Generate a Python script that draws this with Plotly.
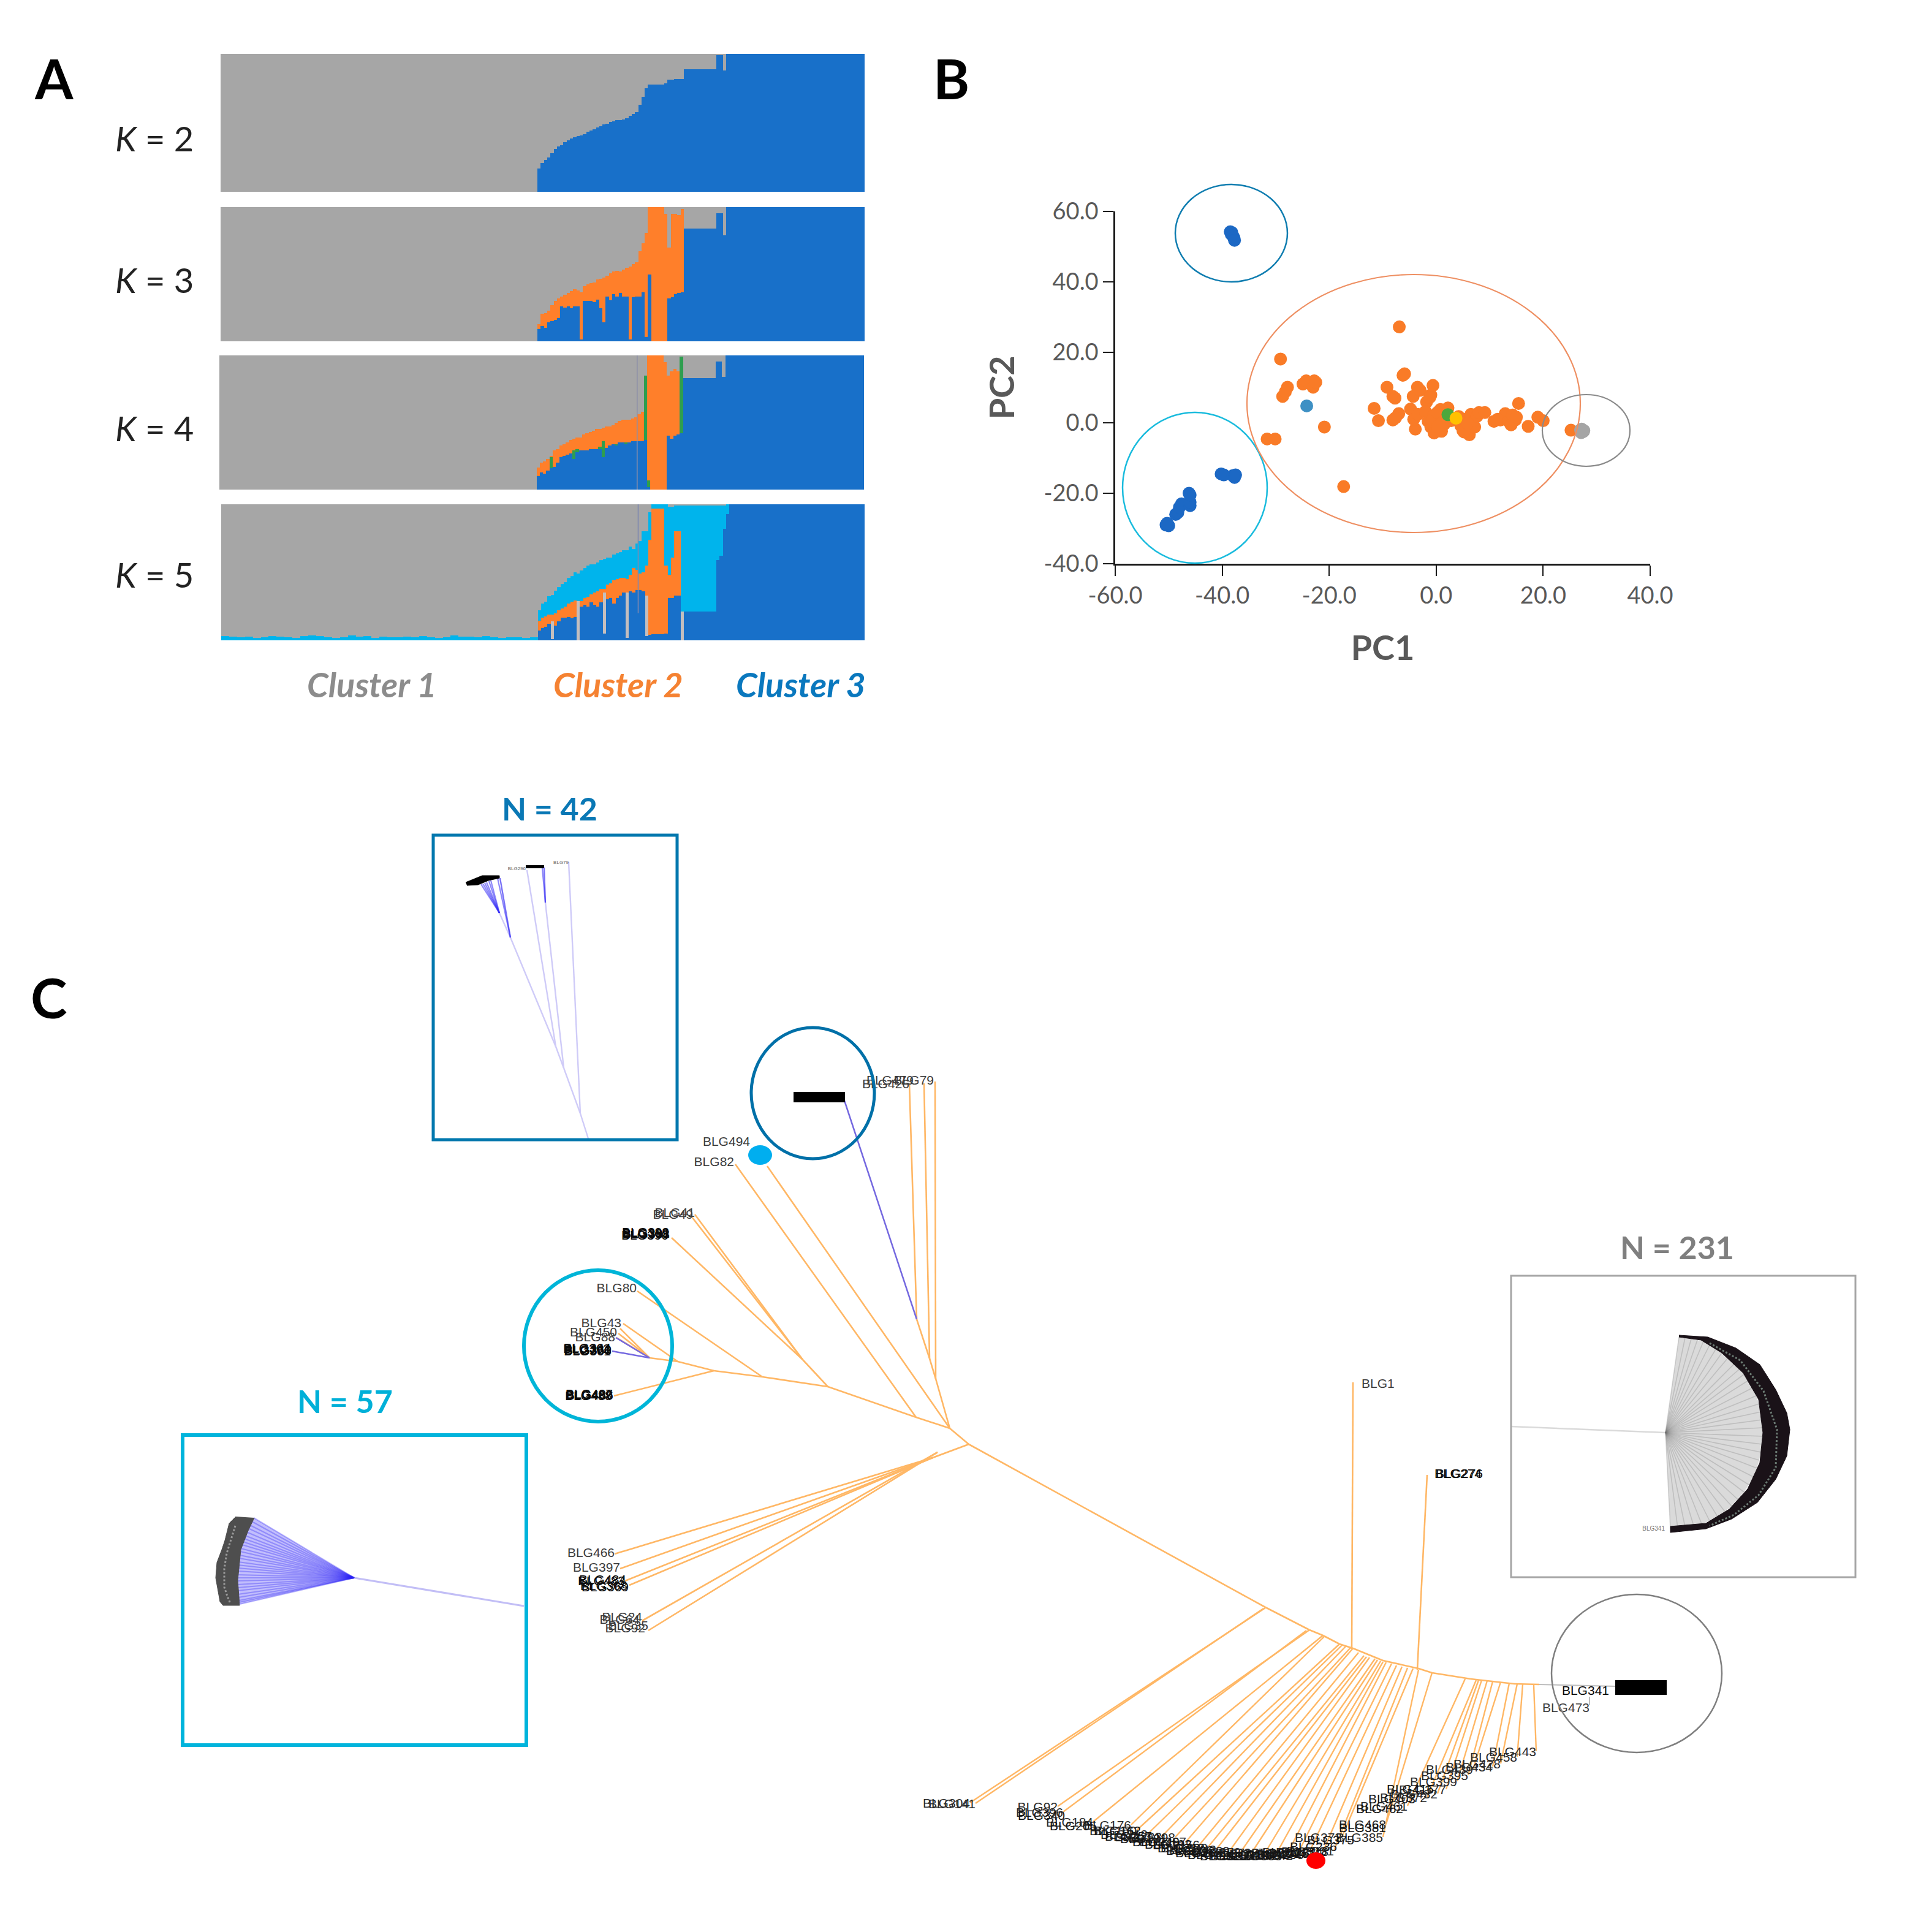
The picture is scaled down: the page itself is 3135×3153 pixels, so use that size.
import plotly.graph_objects as go

W, H = 3135, 3153
GRAY, BLUE, ORANGE, CYAN, GREEN = "#A6A6A6", "#1870C9", "#FF7F2A", "#00B0F0", "#2E9E4F"
SPIKE = "#C4BEBE"
TREE = "#FFB765"
VIOLET = "#7468E0"

# ---------- Panel A: admixture proportions, read column by column ----------
cols_left = 243.5
col_w = 2.5
n_total = 495
k2_blue = [.17,.21,.23,.25,.28,.31,.33,.34,.36,.375,.385,.395,.405,.41,.42,.435,.445,.455,.465,.475,
           .49,.495,.505,.51,.52,.52,.525,.535,.55,.565,.58,.63,.69,.75,.78,.78,.78,.78,.78,.785,
           .815,.815,.82,.82,.82,.89,.89,.89,.89,.89,.89,.89,.89,.89,.89,.99,.99,.88,1,1]
k3_blue = [.09,.115,.10,.14,.15,.16,.175,.26,.25,.26,.245,.26,.26,.015,.30,.30,.30,.29,.31,.245,
           .14,.335,.305,.35,.335,.36,.335,.335,.015,.33,.335,.335,.365,.03,.5,0,0,0,0,0,
           .32,.33,.35,.36,.365,.84,.84,.84,.84,.84,.84,.84,.84,.84,.84,.955,.955,.79,1,1]
k3_orange_top = [.13,.205,.21,.23,.27,.30,.32,.335,.345,.36,.375,.39,.38,.365,.41,.425,.435,.44,.46,.465,
                 .475,.49,.505,.52,.525,.52,.535,.55,.555,.575,.59,.67,.73,.81,1,1,1,1,1,.95,
                 .70,.95,.95,.94,.985,.84,.84,.84,.84,.84,.84,.84,.84,.84,.84,.955,.955,.79,1,1]
k4_blue = [.10,.13,.12,.14,.16,.17,.20,.24,.25,.26,.27,.23,.28,.29,.29,.29,.30,.30,.30,.30,
           .24,.31,.33,.34,.33,.35,.35,.34,.35,.36,.36,.36,.36,.37,.02,0,0,0,0,0,
           .40,.38,.40,.41,.42,.83,.83,.83,.83,.83,.83,.83,.83,.83,.83,.955,.955,.84,1,1]
k4_green = [0,0,0,0,.08,0,0,0,0,0,0,.06,.02,0,0,0,0,0,0,.02,
            .12,0,0,0,.01,0,0,.01,0,0,0,0,0,.48,.05,0,0,0,0,0,
            0,0,0,0,.57,0,0,0,0,0,0,0,0,0,0,0,0,0,0,0]
k4_orange = [.065,.07,.09,.09,.01,.12,.10,.09,.09,.09,.10,.09,.09,.10,.12,.13,.13,.14,.15,.13,
             .10,.16,.14,.14,.16,.16,.17,.17,.17,.17,.18,.20,.22,0,.93,1,1,1,1,.95,
             .45,.50,.50,.47,0,0,0,0,0,0,0,0,0,0,0,0,0,0,0,0]
k5_blue = [.07,.09,.10,.12,.01,.11,.14,.165,.165,.17,.16,.17,0,.25,.26,.25,.28,.26,.25,.28,
           .05,.30,.31,.27,.31,.33,.35,.02,.36,.35,.37,.37,.36,.03,.04,.045,.045,.045,.045,.05,
           .31,.31,.33,.33,0,.21,.21,.21,.21,.21,.21,.21,.21,.21,.21,.59,.62,.82,.93,1]
k5_spike = [0,0,0,0,.13,0,0,0,0,0,0,0,.29,0,0,0,0,0,0,0,
            .30,0,0,0,0,0,0,.33,0,0,0,0,0,.30,0,0,0,0,0,0,
            0,0,0,0,.21,0,0,0,0,0,0,0,0,0,0,0,0,0,0,0]
k5_orange = [.075,.075,.075,.07,.05,.09,.08,.07,.085,.10,.125,.125,0,.04,.05,.07,.06,.09,.11,.10,
             .03,.11,.11,.17,.14,.13,.11,.10,.12,.18,.15,.12,.14,.22,.70,.925,.925,.925,.925,.50,
             .17,.30,.47,.47,0,0,0,0,0,0,0,0,0,0,0,0,0,0,0,0]
k5_cyan = [.075,.105,.11,.135,.145,.165,.17,.18,.18,.19,.19,.205,.20,.225,.22,.23,.22,.21,.21,.21,
           .22,.20,.19,.19,.19,.19,.20,.21,.21,.14,.19,.24,.30,.25,.20,.03,.03,.03,.03,.45,
           .50,.37,.19,.19,.78,.78,.78,.78,.78,.78,.78,.78,.78,.78,.78,.40,.37,.17,.07,0]
k5_left_cyan = [.03,.025,.022,.028,.02,.024,.03,.026,.022,.02,.03,.034,.03,.024,.02,.022,.035,.028,.03,.02,
                .025,.024,.022,.026,.024,.03,.022,.02,.024,.035,.026,.028,.022,.03,.024,.02,.022,.024,.02,.024]

# ---------- Panel B: PCA ----------
pc_ticks_x = [-60, -40, -20, 0, 20, 40]
pc_ticktext_x = ["-60.0", "-40.0", "-20.0", "0.0", "20.0", "40.0"]
pc_ticks_y = [-40, -20, 0, 20, 40, 60]
pc_ticktext_y = ["-40.0", "-20.0", "0.0", "20.0", "40.0", "60.0"]
dark_x = [-38.5,-38.2,-38.3,-38.0,-37.8,-37.7,-50.5,-50.0,-50.3,-48.7,-48.3,-48.0,-47.6,-46.0,-46.0,-46.2,-46.0,-40.2,-39.7,-38.0,-37.7,-37.5]
dark_y = [54.2,54.0,53.5,53.0,52.5,51.8,-29.0,-29.2,-28.5,-26.0,-25.5,-24.0,-23.0,-23.5,-22.5,-20.0,-20.5,-14.5,-14.8,-15.0,-15.5,-14.8]
orange_x = [-6.9,-29.1,-6.2,-5.9,-27.8,-28.7,-28.2,-24.9,-24.3,-22.8,-23.0,-22.5,-9.2,-8.1,-7.7,-3.5,-4.3,-3.0,-0.6,-1.0,-1.8,-1.2,
            -11.6,-10.8,-8.1,-7.0,-7.6,-4.8,-3.9,-4.2,-3.4,-20.9,-31.6,-30.1,-17.3,-2.0,-1.5,-1.0,-0.5,0.0,0.4,0.8,1.0,1.5,1.8,2.2,-0.2,
            -0.8,0.2,0.6,1.2,-0.4,0.3,2.8,4.2,4.6,5.0,5.4,5.8,6.2,6.5,6.8,7.2,7.6,8.0,5.2,5.9,9.1,10.8,12.0,12.9,11.5,13.5,14.3,14.8,14.0,
            15.0,15.4,17.2,19.0,20.0,25.2]
orange_y = [27.2,18.1,13.5,13.9,10.1,7.5,8.8,11.0,11.9,11.9,10.1,11.5,10.1,7.5,7.0,10.1,7.5,9.2,10.6,7.9,5.9,7.2,
            4.1,0.6,0.8,2.6,1.4,3.9,-1.8,1.0,2.4,-1.2,-4.6,-4.6,-18.1,3.2,0.4,-1.2,2.0,-0.6,1.2,3.8,-2.4,-0.4,1.8,4.2,-1.8,
            0.8,2.9,-0.8,0.2,-2.9,-1.0,0.6,1.8,-0.8,-2.2,1.0,-1.6,-3.4,2.4,0.2,-1.2,1.8,2.9,-2.6,-0.2,2.9,0.4,0.8,2.6,1.0,0.4,2.2,0.8,-0.6,
            1.6,5.5,-1.0,1.6,0.6,-2.1]
lightblue_x, lightblue_y = [-24.2], [4.8]
gray_x = [27.0, 27.5, 27.2, 27.6, 27.1]
gray_y = [-2.0, -2.5, -1.8, -2.2, -2.8]
green_x, green_y = [2.2], [2.3]
yellow_x, yellow_y = [3.7], [1.3]

# ---------- Panel C: tree, in its own drawing coordinates ----------
tree_x0 = [1581,1550,1495,1351,1244,1165,1106,1550,1527,1517,1496,1550,1495,1351,1310,1310,1310,1244,1106,1060,1060,1060,1165,
           1581,1522,1522,1522,1522,1530,1530,1581,2065,2137,2159,2186,2208,2257,2315,2337,2400,2471,2206,2313]
tree_y0 = [2357,2331,2313,2263,2247,2237,2222,2331,2250,2217,2153,2331,2313,2263,2219,2219,2219,2247,2222,2216,2216,2216,2237,
           2357,2379,2379,2379,2379,2370,2370,2357,2623,2660,2669,2683,2690,2710,2723,2730,2740,2748,2691,2725]
tree_x1 = [1550,1495,1351,1244,1165,1106,1060,1527,1517,1496,1484,1252,1200,1310,1134,1129,1096,1040,1017,1012,1009,1006,1002,
           1522,1003,1012,1020,1027,1048,1058,2065,2137,2159,2186,2208,2257,2315,2337,2400,2471,2512,2208,2329]
tree_y1 = [2331,2313,2263,2247,2237,2222,2216,2250,2217,2153,1768,1903,1900,2219,1982,1986,2020,2107,2160,2168,2176,2183,2278,
           2379,2536,2560,2580,2587,2645,2661,2623,2660,2669,2683,2690,2710,2723,2730,2740,2748,2749,2256,2407]
tree_tip_up_x0 = [1527, 1517]
tree_tip_up_y0 = [2250, 2217]
tree_tip_up_x1 = [1526, 1508]
tree_tip_up_y1 = [1765, 1768]
leaf_x0 = [2065,2062,2137,2132,2159,2161,2186,2190,2196,2204,2208,2217,2226,2230,2235,2244,2248,2253,2257,2262,2271,2279,2288,2297,2306,2315,2337,
           2391,2409,2413,2418,2427,2436,2449,2463,2476,2485,2503]
leaf_y0 = [2624,2625,2660,2661,2669,2671,2683,2685,2687,2689,2690,2697,2702,2704,2705,2707,2709,2711,2712,2713,2715,2718,2720,2722,2723,2725,2730,
           2740,2742,2742,2742,2743,2744,2745,2747,2748,2749,2750]
leaf_x1 = [1583,1592,1726,1735,1784,1846,1855,1873,1896,1918,1936,1958,1971,1985,2007,2025,2043,2065,2083,2101,2119,2137,2159,2177,2190,2257,2262,
           2297,2329,2346,2360,2378,2396,2404,2436,2449,2476,2507]
leaf_y1 = [2942,2943,2948,2957,2973,2978,2987,2993,2997,2998,3005,3010,3015,3018,3020,3022,3023,3023,3025,3025,3023,3022,3022,3020,2998,2998,2977,
           2947,2933,2927,2920,2907,2897,2887,2883,2878,2867,2858]
leaf_names = ["BLG304","BLG141","BLG92","BLG396","BLG184","BLG176","BLG150","BLG212","BLG233","BLG198","BLG267","BLG156","BLG300","BLG142","BLG229","BLG272",
              "BLG371","BLG227","BLG244","BLG342","BLG221","BLG238","BLG224","BLG231","BLG373","BLG385","BLG468",
              "BLG461","BLG372","BLG432","BLG377","BLG399","BLG395","BLG439","BLG434","BLG428","BLG458","BLG443"]
arc_names = ["BLG340","BLG205","BLG162","BLG257","BLG181","BLG249","BLG193","BLG312","BLG206","BLG268","BLG214","BLG325","BLG277","BLG218","BLG333","BLG242","BLG290","BLG251","BLG318","BLG236","BLG375","BLG381","BLG403","BLG415","BLG462"]
arc_x = [1738,1790,1862,1880,1905,1925,1945,1966,1980,1995,2015,2035,2052,2072,2092,2110,2128,2148,2168,2182,2210,2262,2310,2340,2290]
arc_y = [2965,2982,2990,2999,3003,3008,3012,3018,3022,3026,3029,3031,3031,3030,3031,3030,3029,3027,3024,3016,3005,2985,2938,2922,2954]
tip_names = ["BLG494","BLG82","BLG41","BLG49","BLG80","BLG43","BLG450","BLG88","BLG79","BLG479","BLG426",
             "BLG466","BLG397","BLG24","BLG64","BLG35","BLG92","BLG473"]
tip_x = [1224,1198,1134,1131,1039,1014,1007,1004,1524,1491,1484,1003,1012,1048,1044,1058,1053,2594]
tip_y = [1865,1898,1981,1984,2104,2161,2176,2184,1765,1765,1771,2536,2560,2641,2645,2655,2659,2789]
smudge_names = ["BLG388","BLG389","BLG390","BLG391","BLG392",
                "BLG360","BLG361","BLG362","BLG363","BLG364",
                "BLG486","BLG487","BLG488","BLG489",
                "BLG483","BLG484","BLG368","BLG369",
                "BLG274","BLG276","BLG341"]
smudge_x = [1093,1092,1091,1093,1092, 998,997,996,998,997, 1001,1000,999,1000, 1020,1022,1024,1026, 2418,2420,2626]
smudge_y = [2016,2014,2018,2015,2013, 2205,2207,2203,2206,2202, 2279,2277,2280,2278, 2582,2580,2590,2592, 2407,2407,2761]

i57_root = [578, 2575]
i57_stem = [855, 2621]
i57_x = [414,411,408,405,402,400,398,396,395,393,392,391,390,389,388,388,387,387,387,387,387,388,388,388,389,390,390,391]
i57_y = [2477,2483,2489,2494,2500,2506,2511,2516,2521,2527,2532,2538,2543,2549,2554,2559,2564,2570,2575,2580,2586,2591,2596,2602,2607,2612,2615,2618]
i57_band_x = [385,374,367,362,354,352,359,364,391,388,393,405,415]
i57_band_y = [2475,2486,2514,2529,2550,2575,2614,2620,2620,2579,2529,2498,2477]
i57_mid_x = [384,376,370,366,366,371,376]
i57_mid_y = [2490,2515,2535,2560,2590,2605,2617]

i231_stem_x = [2466, 2718]
i231_stem_y = [2328, 2338]
i231_x = [2740,2750,2760,2770,2780,2790,2800,2810,2820,2830,2838,2846,2853,2860,2866,2871,2874,2876,2877,2877,2876,2874,2871,2867,2861,2854,2846,2836,2826,2815,2803,2790,2777,2764,2750,2738,2726]
i231_y = [2182,2183,2185,2187,2189,2195,2202,2208,2216,2226,2235,2243,2253,2265,2278,2291,2304,2317,2330,2344,2357,2370,2383,2396,2410,2423,2435,2447,2458,2467,2475,2482,2487,2490,2492,2494,2495]
i231_cres_x = [2740,2787,2833,2872,2898,2916,2921,2916,2898,2868,2826,2784,2726,2726,2784,2822,2852,2872,2877,2870,2845,2810,2776,2740]
i231_cres_y = [2179,2182,2200,2227,2268,2306,2333,2376,2414,2452,2479,2495,2501,2491,2486,2463,2430,2387,2338,2284,2241,2208,2187,2182]
i231_mid_x = [2790,2840,2878,2900,2898,2870,2830,2790]
i231_mid_y = [2192,2220,2270,2333,2395,2440,2472,2490]

i42_stem_x0 = [960,947,920,907,833,947,890,920,907,833]
i42_stem_y0 = [1858,1817,1743,1708,1530,1817,1473,1743,1708,1530]
i42_stem_x1 = [947,920,907,833,815,928,888,890,860,816]
i42_stem_y1 = [1817,1743,1708,1530,1490,1407,1415,1473,1420,1433]
i42_fan_x0 = [815,815,815,815,815,815,833,833,890,890]
i42_fan_y0 = [1490,1490,1490,1490,1490,1490,1530,1530,1473,1473]
i42_fan_x1 = [785,788,791,794,798,801,812,816,885,888]
i42_fan_y1 = [1443,1442,1441,1440,1438,1437,1433,1433,1417,1416]
i42_blob_x = [760,787,815,815,797,780,762]
i42_blob_y = [1440,1429,1429,1433,1437,1444,1445]

fig = go.Figure()

def dom_x(a, b):
    return [a / W, b / W]

def dom_y(top, bottom):
    return [1 - bottom / H, 1 - top / H]

def add_bars(name, x, widths, vals, color, sub):
    fig.add_trace(go.Bar(x=x, y=vals, width=widths, name=name, marker=dict(color=color, line=dict(width=0)),
                         xaxis=f"x{sub}", yaxis=f"y{sub}", showlegend=False))

col_x = [cols_left + col_w * (i + 0.5) for i in range(60)]
last_left = cols_left + col_w * 60
x_full = [cols_left / 2] + col_x + [(last_left + n_total) / 2]
w_full = [cols_left] + [col_w] * 60 + [n_total - last_left]

b = [0] + k2_blue + [1]
add_bars("Blue", x_full, w_full, b, BLUE, 1)
add_bars("Gray", x_full, w_full, [1 - v for v in b], GRAY, 1)
b = [0] + k3_blue + [1]
t = [0] + k3_orange_top + [1]
add_bars("Blue", x_full, w_full, b, BLUE, 2)
add_bars("Orange", x_full, w_full, [p - q for p, q in zip(t, b)], ORANGE, 2)
add_bars("Gray", x_full, w_full, [1 - v for v in t], GRAY, 2)
b = [0] + k4_blue + [1]
g = [0] + k4_green + [0]
o = [0] + k4_orange + [0]
add_bars("Blue", x_full, w_full, b, BLUE, 3)
add_bars("Green", x_full, w_full, g, GREEN, 3)
add_bars("Orange", x_full, w_full, o, ORANGE, 3)
add_bars("Gray", x_full, w_full, [max(0, 1 - p - q - r) for p, q, r in zip(b, g, o)], GRAY, 3)
left_w = cols_left / len(k5_left_cyan)
left_x = [left_w * (i + 0.5) for i in range(len(k5_left_cyan))]
x5 = left_x + col_x + [(last_left + n_total) / 2]
w5 = [left_w] * len(left_x) + [col_w] * 60 + [n_total - last_left]
zero = [0] * len(left_x)
b = zero + k5_blue + [1]
s = zero + k5_spike + [0]
o = zero + k5_orange + [0]
c = k5_left_cyan + k5_cyan + [0]
add_bars("Blue", x5, w5, b, BLUE, 4)
add_bars("Spike", x5, w5, s, SPIKE, 4)
add_bars("Orange", x5, w5, o, ORANGE, 4)
add_bars("Cyan", x5, w5, c, "#00B4EC", 4)
add_bars("Gray", x5, w5, [max(0, 1 - p - q - r - u) for p, q, r, u in zip(b, s, o, c)], GRAY, 4)

def pts(x, y, color, size=21, symbol="circle"):
    fig.add_trace(go.Scatter(x=x, y=y, mode="markers", marker=dict(color=color, size=size, symbol=symbol, line=dict(width=0)),
                             xaxis="x5", yaxis="y5", showlegend=False, cliponaxis=False))

pts(orange_x, orange_y, "#F97B27")
pts(dark_x, dark_y, "#1C68C4")
pts(lightblue_x, lightblue_y, "#3E90C4")
pts(gray_x, gray_y, "#A5A5A5")
pts(green_x, green_y, "#4CA83C")
pts(yellow_x, yellow_y, "#FFC000")

def seg(x0, y0, x1, y1, color, width, **kw):
    xs, ys = [], []
    for a, b_, c_, d in zip(x0, y0, x1, y1):
        xs += [a, c_, None]
        ys += [b_, d, None]
    fig.add_trace(go.Scatter(x=xs, y=ys, mode="lines", line=dict(color=color, width=width),
                             xaxis="x6", yaxis="y6", showlegend=False, hoverinfo="skip", **kw))

def poly(x, y, fill, line="rgba(0,0,0,0)"):
    fig.add_trace(go.Scatter(x=x, y=y, mode="lines", fill="toself", fillcolor=fill, line=dict(color=line, width=1),
                             xaxis="x6", yaxis="y6", showlegend=False, hoverinfo="skip"))

def labels(x, y, txt, size=21, color="#3C3C3C", pos="middle left", fam="Liberation Sans"):
    fig.add_trace(go.Scatter(x=x, y=y, text=txt, mode="text", textposition=pos,
                             textfont=dict(size=size, color=color, family=fam),
                             xaxis="x6", yaxis="y6", showlegend=False, hoverinfo="skip"))

seg(tree_x0, tree_y0, tree_x1, tree_y1, TREE, 2.6)
seg(tree_tip_up_x0, tree_tip_up_y0, tree_tip_up_x1, tree_tip_up_y1, TREE, 2.6)
seg(leaf_x0, leaf_y0, leaf_x1, leaf_y1, TREE, 2.4)
seg([2512, 2594], [2749, 2769], [2636, 2594], [2752, 2783], "#BDBDBD", 2)
seg([1496, 1060, 1060], [2153, 2216, 2216], [1377, 999, 1005], [1793, 2205, 2183], VIOLET, 2.5)

labels(leaf_x1, [v + 3 for v in leaf_y1], leaf_names, color="#2A2A2A")
labels(arc_x, arc_y, arc_names, color="#141414")
labels(tip_x, tip_y, tip_names)
labels(smudge_x, smudge_y, smudge_names, color="#0A0A0A")
labels([2222], [2260], ["BLG1"], pos="middle right")

seg([i57_root[0]], [i57_root[1]], [i57_stem[0]], [i57_stem[1]], "#C2BEF6", 3)
poly([i57_x[0]] + i57_x + [i57_root[0]], [i57_y[0]] + i57_y + [i57_root[1]], "rgba(120,110,250,0.45)")
for px, py in zip(i57_x, i57_y):
    seg([i57_root[0]], [i57_root[1]], [px], [py], "rgba(45,35,245,0.32)", 2.2)
poly(i57_band_x, i57_band_y, "#4E4E4E", "#4E4E4E")
fig.add_trace(go.Scatter(x=i57_mid_x, y=i57_mid_y, mode="lines", line=dict(color="#9A9A9A", width=3, dash="dot"),
                         xaxis="x6", yaxis="y6", showlegend=False, hoverinfo="skip"))

seg([i231_stem_x[0]], [i231_stem_y[0]], [i231_stem_x[1]], [i231_stem_y[1]], "#DADADA", 2.5)
poly([i231_x[0]] + i231_x + [2718], [i231_y[0]] + i231_y + [2338], "rgba(205,205,205,0.75)")
for px, py in zip(i231_x, i231_y):
    seg([i231_stem_x[1]], [i231_stem_y[1]], [px], [py], "rgba(120,120,120,0.28)", 1.6)
poly(i231_cres_x, i231_cres_y, "#1A1218", "#1A1218")
fig.add_trace(go.Scatter(x=i231_mid_x, y=i231_mid_y, mode="lines", line=dict(color="#6C7C74", width=3, dash="dot"),
                         xaxis="x6", yaxis="y6", showlegend=False, hoverinfo="skip"))
labels([2717], [2495], ["BLG341"], size=10, color="#777777")

seg(i42_stem_x0, i42_stem_y0, i42_stem_x1, i42_stem_y1, "#CFCBF8", 2.4)
for a, b_, c_, d in zip(i42_fan_x0, i42_fan_y0, i42_fan_x1, i42_fan_y1):
    seg([a], [b_], [c_], [d], "rgba(50,40,245,0.55)", 2.2)
poly(i42_blob_x, i42_blob_y, "#000000", "#000000")
labels([928, 858], [1408, 1418], ["BLG79", "BLG296"], size=8, color="#666666")

layout = dict(
    width=W, height=H, margin=dict(l=0, r=0, t=0, b=0, autoexpand=False), paper_bgcolor="white", plot_bgcolor="rgba(0,0,0,0)",
    barmode="stack", bargap=0, showlegend=False, font=dict(family="Lato", color="#595959"),
)
a_boxes = [(360, 1411, 88, 313), (360, 1411, 338, 557), (358, 1410, 580, 799), (361, 1411, 823, 1045)]
for i, (l, r, t_, b_) in enumerate(a_boxes, start=1):
    sx = "" if i == 1 else str(i)
    layout[f"xaxis{sx}"] = dict(domain=dom_x(l, r), range=[0, n_total], visible=False, anchor=f"y{sx}", fixedrange=True)
    layout[f"yaxis{sx}"] = dict(domain=dom_y(t_, b_), range=[0, 1], visible=False, anchor=f"x{sx}", fixedrange=True)

layout["xaxis5"] = dict(domain=dom_x(1820, 2693), range=[-60, 40], anchor="y5", showline=True, linecolor="#1a1a1a", linewidth=2.5,
                        ticks="outside", ticklen=17, tickwidth=2, tickcolor="#1a1a1a", tickvals=pc_ticks_x, ticktext=pc_ticktext_x,
                        tickfont=dict(size=38, color="#595959", family="Lato"), showgrid=False, zeroline=False, fixedrange=True,
                        automargin=False, title=dict(text="<b>PC1</b>", font=dict(size=56, color="#595959", family="Lato"), standoff=46))
layout["yaxis5"] = dict(domain=dom_y(345, 920), range=[-40, 60], anchor="x5", showline=True, linecolor="#1a1a1a", linewidth=2.5,
                        ticks="outside", ticklen=17, tickwidth=2, tickcolor="#1a1a1a", tickvals=pc_ticks_y, ticktext=pc_ticktext_y,
                        tickfont=dict(size=38, color="#595959", family="Lato"), showgrid=False, zeroline=False, fixedrange=True,
                        automargin=False, title=dict(text="<b>PC2</b>", font=dict(size=56, color="#595959", family="Lato"), standoff=30))
layout["xaxis6"] = dict(domain=[0, 1], range=[0, W], visible=False, anchor="y6", fixedrange=True)
layout["yaxis6"] = dict(domain=[0, 1], range=[H, 0], visible=False, anchor="x6", fixedrange=True)

def ell(x0, x1, y0, y1, color, width, fill=None):
    return dict(type="circle", xref="x6", yref="y6", x0=x0, x1=x1, y0=y0, y1=y1, line=dict(color=color, width=width),
                fillcolor=fill or "rgba(0,0,0,0)", layer="above")

def rect(x0, x1, y0, y1, color, width, fill=None):
    return dict(type="rect", xref="x6", yref="y6", x0=x0, x1=x1, y0=y0, y1=y1,
                line=dict(color=color, width=width), fillcolor=fill or "rgba(0,0,0,0)", layer="above")

layout["shapes"] = [
    ell(1918, 2101, 301, 460, "#0F7DB0", 2.5),
    ell(1832, 2068, 673, 919, "#19BBDD", 2.5),
    ell(2035, 2579, 448, 869, "#EE8F62", 2.2),
    ell(2517, 2660, 644, 761, "#8A8A8A", 2.2),
    ell(1226, 1427, 1677, 1891, "#0070A8", 5),
    ell(855, 1097, 2073, 2320, "#00B5D8", 6),
    ell(2532, 2810, 2602, 2860, "#7F7F7F", 2.5),
    ell(1221, 1260, 1869, 1901, "#00AEEF", 0, "#00AEEF"),
    ell(2132, 2163, 3023, 3050, "#FF0000", 0, "#FF0000"),
    rect(707, 1105, 1363, 1860, "#0078AE", 5),
    rect(298, 859, 2342, 2848, "#00B4DC", 6),
    rect(2466, 3028, 2082, 2574, "#A6A6A6", 3),
    rect(1295, 1379, 1782, 1799, "#000000", 0, "#000000"),
    rect(2636, 2720, 2742, 2766, "#000000", 0, "#000000"),
    rect(858, 888, 1412, 1417, "#000000", 0, "#000000"),
    dict(type="line", xref="x3", yref="y3", x0=320.8, x1=320.8, y0=0, y1=1, line=dict(color="#8C8FA8", width=1.6)),
    dict(type="line", xref="x4", yref="y4", x0=320.8, x1=320.8, y0=0.2, y1=1, line=dict(color="#7E88B0", width=1.6)),
]

def ann(x, y, text, size, color, **kw):
    return dict(xref="x6", yref="y6", x=x, y=y, text=text, showarrow=False, xanchor="center", yanchor="middle",
                font=dict(size=size, color=color, family="Lato"), **kw)

layout["annotations"] = [
    ann(88, 127, "<b>A</b>", 90, "#000000"),
    ann(1552, 127, "<b>B</b>", 90, "#000000"),
    ann(80, 1627, "<b>C</b>", 90, "#000000"),
    ann(252, 225, "<i>K</i> = 2", 56, "#222222"),
    ann(252, 456, "<i>K</i> = 3", 56, "#222222"),
    ann(252, 698, "<i>K</i> = 4", 56, "#222222"),
    ann(252, 937, "<i>K</i> = 5", 56, "#222222"),
    ann(607, 1116, "<b><i>Cluster 1</i></b>", 56, "#8C8C8C"),
    ann(1009, 1116, "<b><i>Cluster 2</i></b>", 56, "#F58232"),
    ann(1307, 1116, "<b><i>Cluster 3</i></b>", 56, "#0A78BE"),
    ann(897, 1319, "<b>N = 42</b>", 52, "#0A78B5"),
    ann(2737, 2035, "<b>N = 231</b>", 52, "#7F7F7F"),
    ann(563, 2286, "<b>N = 57</b>", 52, "#00B0D8"),
]
fig.update_layout(**layout)
fig.write_html("out.html", config={"displayModeBar": False},
               post_script="document.body.style.margin='0';document.body.style.overflow='hidden';")
